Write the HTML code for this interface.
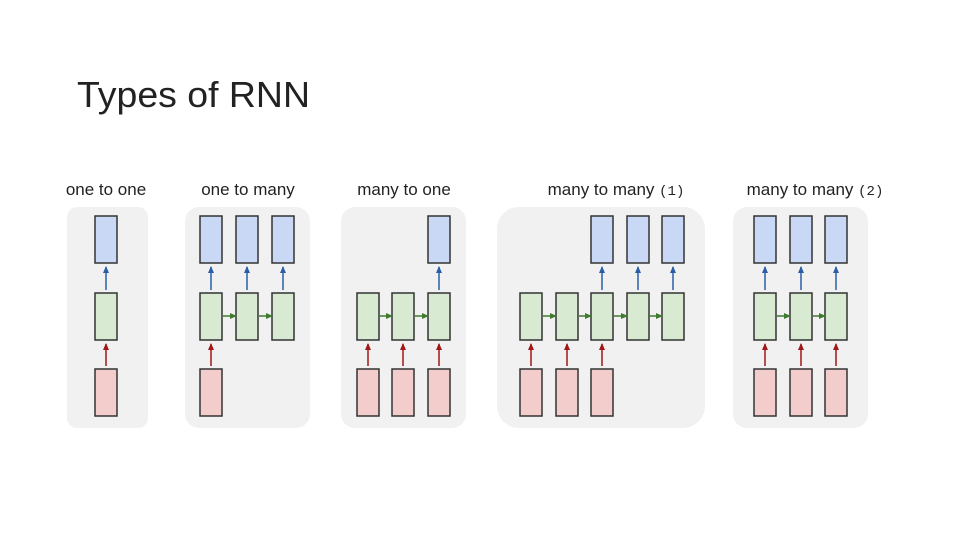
<!DOCTYPE html>
<html><head><style>
body{margin:0;background:#fff;}
</style></head><body>
<svg width="960" height="540" xmlns="http://www.w3.org/2000/svg" style="display:block">
<defs>
<marker id="mb" markerUnits="userSpaceOnUse" markerWidth="7" markerHeight="7" refX="6" refY="3" orient="auto" viewBox="0 0 7 6"><path d="M0,0 L7,3 L0,6z" fill="#2a5ea8"/></marker>
<marker id="mr" markerUnits="userSpaceOnUse" markerWidth="7" markerHeight="7" refX="6" refY="3" orient="auto" viewBox="0 0 7 6"><path d="M0,0 L7,3 L0,6z" fill="#a01818"/></marker>
<marker id="mg" markerUnits="userSpaceOnUse" markerWidth="7" markerHeight="7" refX="6" refY="3" orient="auto" viewBox="0 0 7 6"><path d="M0,0 L7,3 L0,6z" fill="#3f7a2e"/></marker>
</defs>
<text x="77" y="107" font-family="Liberation Sans, sans-serif" font-size="36" fill="#222" textLength="233" lengthAdjust="spacingAndGlyphs">Types of RNN</text>
<g font-family="Liberation Sans, sans-serif" font-size="17" fill="#222" text-anchor="middle">
<text x="106" y="195">one to one</text>
<text x="248" y="195">one to many</text>
<text x="404" y="195">many to one</text>
<text x="616" y="195">many to many <tspan font-family="Liberation Mono, monospace" font-size="14">(1)</tspan></text>
<text x="815" y="195">many to many <tspan font-family="Liberation Mono, monospace" font-size="14">(2)</tspan></text>
</g>
<g fill="#f1f1f1">
<rect x="67" y="207" width="81" height="221" rx="10"/>
<rect x="185" y="207" width="125" height="221" rx="14"/>
<rect x="341" y="207" width="125" height="221" rx="14"/>
<rect x="497" y="207" width="208" height="221" rx="22"/>
<rect x="733" y="207" width="135" height="221" rx="14"/>
</g>
<g stroke="#333" stroke-width="1.5" fill="#c9d9f5">
<rect x="95" y="216" width="22" height="47"/>
<rect x="200" y="216" width="22" height="47"/>
<rect x="236" y="216" width="22" height="47"/>
<rect x="272" y="216" width="22" height="47"/>
<rect x="428" y="216" width="22" height="47"/>
<rect x="591" y="216" width="22" height="47"/>
<rect x="627" y="216" width="22" height="47"/>
<rect x="662" y="216" width="22" height="47"/>
<rect x="754" y="216" width="22" height="47"/>
<rect x="790" y="216" width="22" height="47"/>
<rect x="825" y="216" width="22" height="47"/>
</g>
<g stroke="#333" stroke-width="1.5" fill="#d9ead3">
<rect x="95" y="293" width="22" height="47"/>
<rect x="200" y="293" width="22" height="47"/>
<rect x="236" y="293" width="22" height="47"/>
<rect x="272" y="293" width="22" height="47"/>
<rect x="357" y="293" width="22" height="47"/>
<rect x="392" y="293" width="22" height="47"/>
<rect x="428" y="293" width="22" height="47"/>
<rect x="520" y="293" width="22" height="47"/>
<rect x="556" y="293" width="22" height="47"/>
<rect x="591" y="293" width="22" height="47"/>
<rect x="627" y="293" width="22" height="47"/>
<rect x="662" y="293" width="22" height="47"/>
<rect x="754" y="293" width="22" height="47"/>
<rect x="790" y="293" width="22" height="47"/>
<rect x="825" y="293" width="22" height="47"/>
</g>
<g stroke="#333" stroke-width="1.5" fill="#f3cccc">
<rect x="95" y="369" width="22" height="47"/>
<rect x="200" y="369" width="22" height="47"/>
<rect x="357" y="369" width="22" height="47"/>
<rect x="392" y="369" width="22" height="47"/>
<rect x="428" y="369" width="22" height="47"/>
<rect x="520" y="369" width="22" height="47"/>
<rect x="556" y="369" width="22" height="47"/>
<rect x="591" y="369" width="22" height="47"/>
<rect x="754" y="369" width="22" height="47"/>
<rect x="790" y="369" width="22" height="47"/>
<rect x="825" y="369" width="22" height="47"/>
</g>
<g stroke="#2a5ea8" stroke-width="1.5" marker-end="url(#mb)">
<line x1="106" y1="290" x2="106" y2="267"/>
<line x1="211" y1="290" x2="211" y2="267"/>
<line x1="247" y1="290" x2="247" y2="267"/>
<line x1="283" y1="290" x2="283" y2="267"/>
<line x1="439" y1="290" x2="439" y2="267"/>
<line x1="602" y1="290" x2="602" y2="267"/>
<line x1="638" y1="290" x2="638" y2="267"/>
<line x1="673" y1="290" x2="673" y2="267"/>
<line x1="765" y1="290" x2="765" y2="267"/>
<line x1="801" y1="290" x2="801" y2="267"/>
<line x1="836" y1="290" x2="836" y2="267"/>
</g>
<g stroke="#a01818" stroke-width="1.5" marker-end="url(#mr)">
<line x1="106" y1="366" x2="106" y2="344"/>
<line x1="211" y1="366" x2="211" y2="344"/>
<line x1="368" y1="366" x2="368" y2="344"/>
<line x1="403" y1="366" x2="403" y2="344"/>
<line x1="439" y1="366" x2="439" y2="344"/>
<line x1="531" y1="366" x2="531" y2="344"/>
<line x1="567" y1="366" x2="567" y2="344"/>
<line x1="602" y1="366" x2="602" y2="344"/>
<line x1="765" y1="366" x2="765" y2="344"/>
<line x1="801" y1="366" x2="801" y2="344"/>
<line x1="836" y1="366" x2="836" y2="344"/>
</g>
<g stroke="#3f7a2e" stroke-width="1.5" marker-end="url(#mg)">
<line x1="223" y1="316" x2="236" y2="316"/>
<line x1="259" y1="316" x2="272" y2="316"/>
<line x1="380" y1="316" x2="392" y2="316"/>
<line x1="415" y1="316" x2="428" y2="316"/>
<line x1="543" y1="316" x2="556" y2="316"/>
<line x1="579" y1="316" x2="591" y2="316"/>
<line x1="614" y1="316" x2="627" y2="316"/>
<line x1="650" y1="316" x2="662" y2="316"/>
<line x1="777" y1="316" x2="790" y2="316"/>
<line x1="813" y1="316" x2="825" y2="316"/>
</g>
</svg>
</body></html>
